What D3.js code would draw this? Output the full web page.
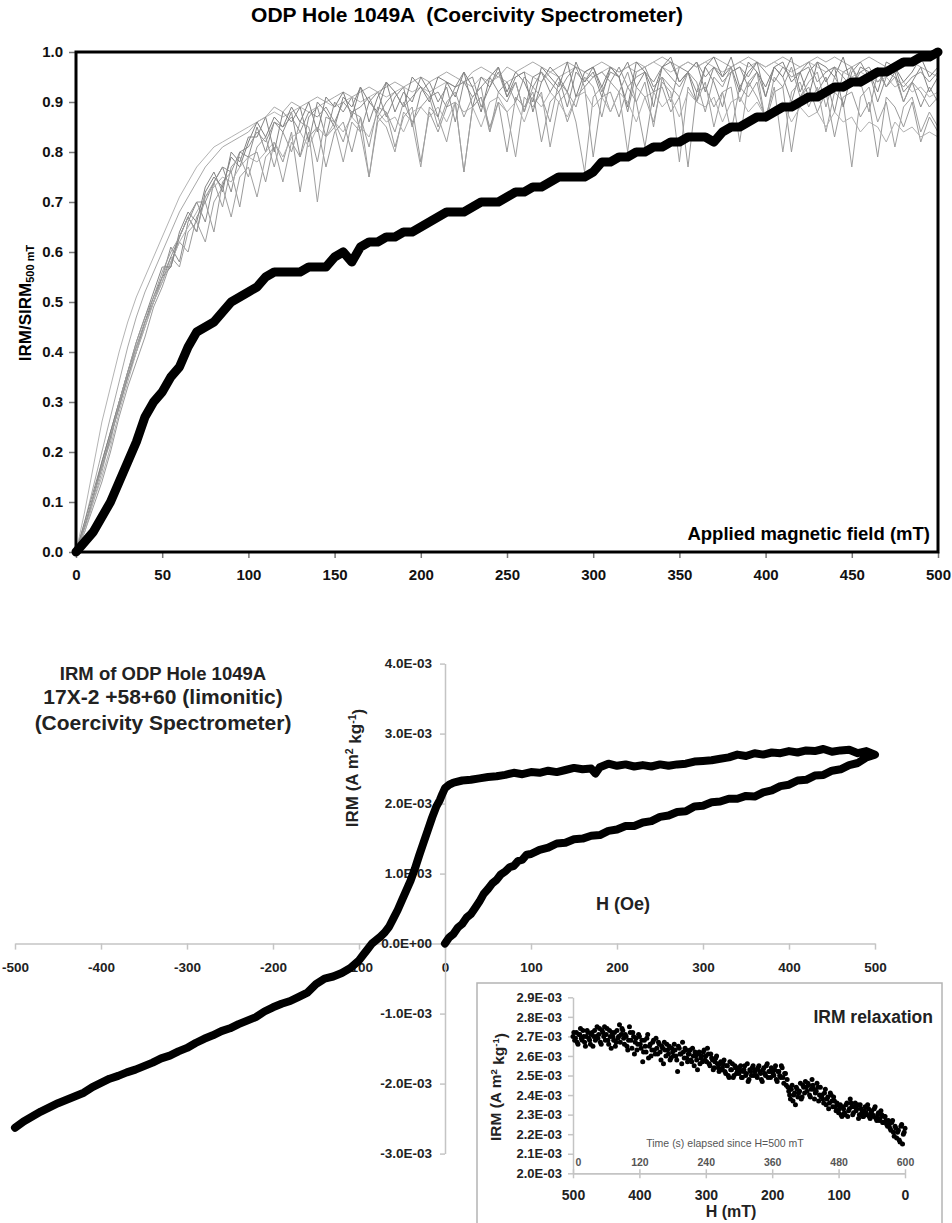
<!DOCTYPE html>
<html>
<head>
<meta charset="utf-8">
<script src="https://cdn.jsdelivr.net/npm/d3@7"></script>
<style>
  body { margin: 0; background: #fff; }
  svg { display: block; font-family: "Liberation Sans", Arial, sans-serif; font-weight: bold; }
</style>
</head>
<body>
<svg id="chart" width="952" height="1223"></svg>
<script>
// ---------- data: coercivity spectra (IRM/SIRM vs applied field, mT) ----------
const fieldMT = [0,5,10,15,20,25,30,35,40,45,50,55,60,65,70,75,80,85,90,95,100,
  105,110,115,120,125,130,135,140,145,150,155,160,165,170,175,180,185,190,195,200,
  205,210,215,220,225,230,235,240,245,250,255,260,265,270,275,280,285,290,295,300,
  305,310,315,320,325,330,335,340,345,350,355,360,365,370,375,380,385,390,395,400,
  405,410,415,420,425,430,435,440,445,450,455,460,465,470,475,480,485,490,495,500];

// other samples of the hole (thin grey traces)
const sampleA = [0,.06,.13,.20,.27,.34,.41,.47,.52,.56,.60,.64,.68,.71,.74,.77,.79,.81,.82,.83,.84,
  .86,.87,.89,.88,.90,.89,.90,.91,.90,.91,.92,.91,.92,.93,.92,.93,.94,.93,.94,.95,
  .94,.95,.96,.95,.94,.96,.97,.96,.95,.97,.96,.97,.98,.97,.96,.97,.98,.97,.96,.97,
  .98,.97,.96,.97,.98,.97,.98,.99,.98,.97,.98,.97,.98,.99,.98,.97,.98,.99,.98,.97,
  .98,.99,.98,.97,.98,.99,.98,.99,.98,.97,.98,.99,.98,.97,.96,.97,.98,.97,.96,.95];
const sampleB = [0,.05,.11,.17,.23,.29,.35,.40,.46,.50,.55,.61,.58,.66,.70,.66,.74,.77,.72,.80,.79,
  .85,.80,.86,.84,.88,.79,.87,.89,.83,.90,.88,.91,.84,.90,.92,.87,.91,.93,.85,.92,
  .94,.90,.93,.86,.94,.95,.89,.93,.96,.91,.94,.88,.95,.96,.92,.95,.89,.96,.94,.97,
  .92,.96,.95,.88,.96,.97,.93,.95,.90,.97,.96,.92,.97,.94,.89,.96,.97,.93,.96,.91,
  .97,.95,.90,.96,.97,.92,.95,.88,.96,.97,.93,.96,.90,.95,.97,.92,.94,.89,.93,.90];
const sampleC = [0,.04,.09,.14,.20,.27,.33,.38,.43,.49,.53,.58,.62,.60,.67,.70,.64,.74,.76,.69,.79,
  .80,.74,.82,.78,.84,.72,.83,.85,.77,.84,.86,.80,.87,.75,.86,.88,.81,.87,.89,.78,
  .88,.84,.89,.90,.76,.89,.91,.85,.90,.80,.91,.89,.92,.82,.90,.92,.86,.91,.93,.79,
  .91,.92,.87,.93,.90,.81,.92,.93,.88,.91,.77,.92,.93,.89,.92,.84,.93,.91,.94,.86,
  .92,.93,.80,.91,.93,.88,.92,.83,.91,.92,.87,.90,.79,.91,.89,.85,.90,.82,.87,.84];
const sampleD = [0,.08,.17,.26,.33,.40,.46,.51,.55,.59,.63,.67,.71,.74,.77,.79,.81,.82,.83,.84,.85,
  .86,.87,.88,.87,.88,.89,.88,.89,.90,.89,.90,.91,.90,.91,.92,.91,.92,.93,.92,.93,
  .92,.93,.94,.93,.94,.93,.95,.94,.95,.94,.95,.96,.95,.94,.96,.95,.96,.97,.96,.95,
  .96,.97,.96,.97,.96,.97,.98,.97,.96,.97,.98,.97,.98,.97,.96,.97,.98,.97,.98,.97,
  .98,.97,.96,.97,.98,.97,.96,.97,.96,.95,.96,.95,.94,.95,.93,.94,.92,.93,.91,.92];
const sampleE = [0,.05,.11,.18,.24,.30,.36,.41,.46,.51,.55,.57,.63,.67,.64,.72,.75,.73,.79,.77,.82,
  .86,.83,.87,.85,.89,.86,.90,.84,.91,.89,.92,.87,.93,.90,.88,.94,.92,.89,.95,.93,
  .90,.95,.94,.91,.96,.93,.88,.95,.97,.92,.96,.94,.90,.97,.95,.93,.98,.91,.96,.97,
  .93,.97,.95,.89,.98,.96,.92,.97,.98,.94,.96,.90,.97,.99,.95,.97,.92,.98,.96,.93,
  .97,.98,.94,.96,.91,.98,.97,.95,.99,.93,.97,.96,.92,.98,.97,.94,.96,.99,.95,.97];
const sampleF = [0,.05,.10,.16,.23,.29,.35,.41,.46,.50,.55,.59,.57,.64,.66,.62,.70,.73,.67,.75,.77,
  .71,.79,.81,.74,.82,.79,.84,.70,.83,.85,.78,.86,.84,.75,.87,.85,.80,.88,.86,.77,
  .89,.87,.82,.90,.76,.89,.91,.84,.90,.88,.79,.91,.89,.92,.81,.90,.92,.86,.76,.91,
  .93,.88,.92,.80,.93,.91,.86,.94,.92,.78,.93,.90,.94,.85,.92,.93,.82,.94,.91,.87,
  .93,.80,.92,.94,.89,.93,.84,.92,.90,.77,.91,.93,.86,.90,.81,.89,.91,.84,.88,.85];
const sampleG = [0,.05,.11,.17,.23,.29,.35,.40,.45,.50,.54,.59,.63,.67,.70,.70,.74,.77,.76,.80,.81,
  .84,.82,.86,.85,.87,.84,.88,.87,.89,.86,.90,.88,.89,.91,.87,.90,.92,.89,.91,.93,
  .91,.92,.89,.93,.94,.91,.93,.95,.92,.94,.90,.95,.93,.96,.94,.92,.95,.97,.93,.95,
  .96,.94,.97,.93,.95,.96,.94,.97,.95,.93,.96,.98,.95,.97,.94,.96,.97,.95,.98,.96,
  .94,.97,.95,.96,.98,.94,.96,.97,.95,.93,.96,.97,.94,.96,.95,.93,.95,.96,.94,.96];
const sampleH = [0,.04,.10,.15,.21,.28,.34,.40,.45,.50,.54,.58,.62,.65,.68,.71,.73,.75,.74,.77,.79,
  .78,.80,.82,.79,.83,.84,.81,.85,.83,.86,.84,.87,.85,.83,.88,.86,.87,.84,.88,.89,
  .87,.89,.86,.90,.88,.89,.85,.90,.91,.88,.90,.86,.91,.89,.92,.90,.87,.91,.92,.89,
  .91,.88,.92,.90,.86,.91,.92,.89,.91,.87,.92,.90,.89,.91,.86,.90,.91,.88,.90,.87,
  .89,.90,.86,.89,.87,.88,.85,.88,.86,.87,.84,.86,.85,.82,.86,.84,.85,.83,.84,.83];
const sampleI = [0,.06,.12,.18,.24,.30,.36,.42,.47,.52,.57,.57,.64,.68,.66,.73,.76,.72,.80,.78,.83,
  .83,.87,.80,.88,.86,.89,.82,.90,.88,.85,.91,.89,.93,.86,.91,.94,.88,.92,.90,.95,
  .92,.87,.94,.93,.96,.89,.95,.93,.97,.91,.95,.96,.88,.94,.97,.95,.92,.98,.94,.96,
  .91,.97,.95,.98,.93,.96,.89,.97,.99,.94,.96,.98,.92,.97,.95,.99,.93,.96,.98,.91,
  .97,.95,.99,.92,.96,.98,.94,.97,.89,.96,.98,.95,.97,.93,.96,.90,.94,.97,.92,.95];
const sampleJ = [0,.05,.11,.17,.22,.30,.36,.42,.47,.51,.56,.60,.63,.67,.64,.71,.74,.69,.77,.79,.75,
  .81,.83,.77,.84,.80,.86,.85,.78,.87,.86,.82,.88,.87,.81,.89,.88,.84,.90,.86,.89,
  .91,.85,.90,.92,.87,.91,.93,.84,.92,.90,.94,.88,.93,.91,.86,.94,.92,.89,.95,.93,
  .87,.94,.92,.96,.90,.94,.85,.95,.93,.91,.96,.94,.88,.95,.93,.97,.90,.94,.96,.86,
  .95,.93,.97,.91,.94,.96,.89,.95,.92,.97,.94,.88,.96,.93,.95,.90,.94,.92,.89,.91];
const greySamples = [sampleA, sampleB, sampleC, sampleD, sampleE, sampleF, sampleG, sampleH, sampleI, sampleJ];

// 17X-2 +58+60 (thick black trace)
const sample17X = [0,.02,.04,.07,.10,.14,.18,.22,.27,.30,.32,.35,.37,.41,.44,.45,.46,.48,.50,.51,.52,
  .53,.55,.56,.56,.56,.56,.57,.57,.57,.59,.60,.58,.61,.62,.62,.63,.63,.64,.64,.65,
  .66,.67,.68,.68,.68,.69,.70,.70,.70,.71,.72,.72,.73,.73,.74,.75,.75,.75,.75,.76,
  .78,.78,.79,.79,.80,.80,.81,.81,.82,.82,.83,.83,.83,.82,.84,.85,.85,.86,.87,.87,
  .88,.89,.89,.90,.91,.91,.92,.93,.93,.94,.94,.95,.96,.96,.97,.98,.98,.99,.99,1];

const specXTicks = [0,50,100,150,200,250,300,350,400,450,500];
const specYTicks = [0,.1,.2,.3,.4,.5,.6,.7,.8,.9,1];

// ---------- data: IRM loop (H in Oe, IRM in 1E-03 A m2/kg) ----------
const riseH = [0,5,10,15,20,25,30,35,40,45,50,55,60,65,70,75,80,85,90,95,100,
  110,120,130,140,150,160,170,180,190,200,210,220,230,240,250,260,270,280,290,300,
  310,320,330,340,350,360,370,380,390,400,410,420,430,440,450,460,470,480,490,500];
const riseIRM = [0,.09,.14,.23,.28,.37,.42,.51,.60,.71,.78,.86,.91,.99,1.03,1.09,1.11,1.18,1.20,1.27,1.28,
  1.34,1.37,1.43,1.44,1.49,1.50,1.54,1.55,1.61,1.63,1.68,1.68,1.73,1.75,1.81,1.83,1.88,1.89,1.96,1.97,
  2.02,2.03,2.07,2.07,2.11,2.10,2.16,2.19,2.25,2.27,2.33,2.34,2.40,2.41,2.47,2.49,2.55,2.58,2.66,2.70];
const returnH = [490,480,470,460,450,440,430,420,410,400,390,380,370,360,350,340,330,320,310,300,
  290,280,270,260,250,240,230,220,210,200,190,180,175,170,160,150,140,130,120,110,100,
  90,80,70,60,50,40,30,20,10,5,0,-3,-6,-10,-15,-20,-25,-30,-35,-40,-45,-50,-55,-60,-65,
  -70,-75,-80,-85,-90,-95,-100,-110,-120,-130,-140,-150,-160,-170,-180,-190,-200,
  -210,-220,-230,-240,-250,-260,-270,-280,-290,-300,-310,-320,-330,-340,-350,
  -360,-370,-380,-390,-400,-410,-420,-430,-440,-450,-460,-470,-480,-490,-500];
const returnIRM = [2.75,2.72,2.77,2.76,2.74,2.78,2.75,2.76,2.73,2.75,2.72,2.73,2.70,2.72,2.68,2.70,2.66,2.64,2.62,2.61,
  2.60,2.57,2.56,2.54,2.56,2.53,2.55,2.53,2.56,2.54,2.57,2.52,2.43,2.50,2.49,2.51,2.48,2.45,2.47,2.44,2.45,
  2.42,2.44,2.41,2.39,2.38,2.36,2.34,2.33,2.30,2.27,2.22,2.14,2.05,1.96,1.80,1.62,1.44,1.26,1.07,.90,.76,.62,.48,.36,.24,
  .16,.10,.05,0,-.08,-.16,-.24,-.35,-.42,-.47,-.50,-.58,-.70,-.76,-.82,-.86,-.91,
  -.97,-1.05,-1.10,-1.15,-1.21,-1.25,-1.31,-1.36,-1.42,-1.49,-1.54,-1.60,-1.64,-1.70,-1.75,
  -1.80,-1.84,-1.89,-1.93,-1.99,-2.05,-2.13,-2.18,-2.23,-2.28,-2.34,-2.40,-2.47,-2.54,-2.63];
const loopXTicks = [-500,-400,-300,-200,-100,0,100,200,300,400,500];
const loopYTicks = [-3,-2,-1,0,1,2,3,4];

// ---------- data: IRM relaxation after H=500 mT ----------
// readings on the whole 3 s marks (t = 0, 3, 6 ... 600 s)
const relaxStepS = 3;
const relaxIRM = [2.70,2.68,2.72,2.66,2.71,2.69,2.73,2.67,2.70,2.72,
  2.68,2.71,2.65,2.73,2.70,2.69,2.74,2.66,2.72,2.75,
  2.71,2.68,2.73,2.64,2.70,2.72,2.67,2.69,2.76,2.71,
  2.73,2.66,2.70,2.63,2.75,2.68,2.72,2.61,2.69,2.66,
  2.70,2.64,2.57,2.68,2.62,2.71,2.65,2.60,2.67,2.63,
  2.69,2.61,2.66,2.58,2.64,2.67,2.60,2.63,2.65,2.59,
  2.62,2.66,2.60,2.52,2.64,2.61,2.67,2.59,2.63,2.57,
  2.61,2.58,2.64,2.55,2.60,2.53,2.62,2.59,2.57,2.63,
  2.60,2.64,2.56,2.61,2.58,2.54,2.59,2.56,2.52,2.57,
  2.54,2.58,2.51,2.55,2.49,2.53,2.56,2.50,2.54,2.52,
  2.51,2.55,2.49,2.53,2.50,2.56,2.48,2.52,2.54,2.50,
  2.53,2.49,2.55,2.51,2.47,2.54,2.50,2.56,2.52,2.49,
  2.53,2.50,2.55,2.47,2.52,2.49,2.54,2.46,2.51,2.48,
  2.42,2.38,2.45,2.40,2.35,2.43,2.41,2.46,2.39,2.44,
  2.47,2.42,2.45,2.39,2.48,2.43,2.41,2.46,2.37,2.44,
  2.40,2.36,2.43,2.38,2.33,2.41,2.37,2.39,2.34,2.36,
  2.31,2.35,2.29,2.33,2.30,2.36,2.32,2.38,2.34,2.31,
  2.36,2.33,2.28,2.35,2.31,2.29,2.34,2.30,2.33,2.28,
  2.32,2.29,2.34,2.27,2.31,2.28,2.30,2.26,2.29,2.25,
  2.27,2.23,2.26,2.21,2.24,2.18,2.22,2.16,2.25,2.20,2.23];
// readings half-way between them (t = 1.5, 4.5 ... 598.5 s)
const relaxIRMMid = [2.72,2.69,2.67,2.71,2.74,2.68,2.70,2.65,2.73,2.69,
  2.66,2.72,2.70,2.68,2.75,2.71,2.67,2.73,2.70,2.68,
  2.74,2.66,2.70,2.72,2.68,2.65,2.73,2.70,2.67,2.74,
  2.69,2.71,2.65,2.68,2.72,2.64,2.70,2.67,2.63,2.71,
  2.66,2.68,2.62,2.65,2.69,2.59,2.66,2.63,2.68,2.61,
  2.64,2.67,2.62,2.65,2.56,2.63,2.66,2.61,2.58,2.64,
  2.60,2.63,2.58,2.65,2.61,2.56,2.62,2.64,2.59,2.61,
  2.63,2.57,2.60,2.62,2.58,2.61,2.56,2.60,2.62,2.58,
  2.57,2.61,2.55,2.59,2.53,2.57,2.60,2.54,2.56,2.53,
  2.56,2.52,2.55,2.50,2.57,2.53,2.49,2.55,2.51,2.54,
  2.53,2.49,2.52,2.55,2.51,2.47,2.53,2.50,2.55,2.52,
  2.50,2.54,2.52,2.48,2.53,2.51,2.55,2.49,2.52,2.54,
  2.51,2.53,2.48,2.52,2.50,2.55,2.49,2.51,2.45,2.44,
  2.40,2.43,2.37,2.41,2.44,2.39,2.42,2.38,2.45,2.41,
  2.44,2.46,2.40,2.43,2.45,2.38,2.42,2.44,2.40,2.39,
  2.38,2.41,2.35,2.39,2.36,2.40,2.34,2.37,2.32,2.35,
  2.33,2.30,2.34,2.31,2.35,2.29,2.33,2.36,2.30,2.34,
  2.32,2.35,2.30,2.33,2.29,2.32,2.31,2.35,2.29,2.31,
  2.30,2.33,2.28,2.30,2.27,2.32,2.26,2.29,2.27,2.24,
  2.25,2.22,2.27,2.19,2.23,2.21,2.17,2.24,2.15,2.21];
const relaxHTicks = [500,400,300,200,100,0];
const relaxTimeTicks = [0,120,240,360,480,600];
const relaxYTicks = [2.0,2.1,2.2,2.3,2.4,2.5,2.6,2.7,2.8,2.9];

const svg = d3.select("svg#chart");
svg.append("rect").attr("width", 952).attr("height", 1223).attr("fill", "#fff");

function expLabel(d) {
  return d === 0 ? "0.0E+00" : d.toFixed(1) + "E-03";
}

// ================= top panel =================
const spec = { left: 76, top: 52, width: 862, height: 500 };
const xSpec = d3.scaleLinear().domain([0, 500]).range([0, spec.width]);
const ySpec = d3.scaleLinear().domain([0, 1]).range([spec.height, 0]);
const g1 = svg.append("g").attr("transform", `translate(${spec.left},${spec.top})`);

g1.append("clipPath").attr("id", "specClip")
  .append("rect").attr("width", spec.width).attr("height", spec.height);

const xAxisSpec = g1.append("g")
  .attr("transform", `translate(0,${spec.height})`)
  .call(d3.axisBottom(xSpec).tickValues(specXTicks).tickFormat(d => d)
    .tickSize(6).tickSizeOuter(0).tickPadding(11));
const yAxisSpec = g1.append("g")
  .call(d3.axisLeft(ySpec).tickValues(specYTicks).tickFormat(d3.format(".1f"))
    .tickSize(7).tickSizeOuter(0).tickPadding(6));
[xAxisSpec, yAxisSpec].forEach(a => {
  a.select(".domain").remove();
  a.selectAll("line").attr("stroke", "#777").attr("stroke-width", 1.5);
  a.selectAll("text").attr("fill", "#111").style("font-size", "15px");
});

const specLine = d3.line()
  .x((d, i) => xSpec(fieldMT[i]))
  .y(d => ySpec(d));

const greyColors = ["#a8a8a8", "#8c8c8c", "#9a9a9a", "#b4b4b4", "#7e7e7e",
  "#a0a0a0", "#909090", "#b0b0b0", "#858585", "#9c9c9c"];

g1.append("g").attr("clip-path", "url(#specClip)")
  .selectAll("path.grey")
  .data(greySamples)
  .enter().append("path")
  .attr("class", "grey")
  .attr("d", specLine)
  .attr("fill", "none")
  .attr("stroke", (d, i) => greyColors[i])
  .attr("stroke-width", 1);

g1.append("rect")
  .attr("width", spec.width).attr("height", spec.height)
  .attr("fill", "none").attr("stroke", "#000").attr("stroke-width", 3);

g1.append("path")
  .datum(sample17X)
  .attr("d", specLine)
  .attr("fill", "none")
  .attr("stroke", "#000")
  .attr("stroke-width", 9)
  .attr("stroke-linejoin", "round")
  .attr("stroke-linecap", "round");

svg.append("text")
  .attr("x", 467).attr("y", 22)
  .attr("text-anchor", "middle")
  .style("font-size", "21px")
  .style("white-space", "pre")
  .text("ODP Hole 1049A  (Coercivity Spectrometer)");

g1.append("text")
  .attr("x", spec.width - 8).attr("y", spec.height - 12)
  .attr("text-anchor", "end")
  .style("font-size", "18.5px")
  .text("Applied magnetic field (mT)");

const yTitle = svg.append("text")
  .attr("transform", "translate(31,303) rotate(-90)")
  .attr("text-anchor", "middle")
  .style("font-size", "17px");
yTitle.append("tspan").text("IRM/SIRM");
yTitle.append("tspan").attr("dy", "0.3em").style("font-size", "11px").text("500 mT");

// ================= bottom panel: IRM loop =================
const xLoop = d3.scaleLinear().domain([-500, 500]).range([15, 875]);
const yLoop = d3.scaleLinear().domain([-3, 4]).range([1153.6, 663.6]);
const g2 = svg.append("g");

const xAxisLoop = g2.append("g")
  .attr("transform", `translate(0,${yLoop(0)})`)
  .call(d3.axisBottom(xLoop).tickValues(loopXTicks).tickFormat(d => d)
    .tickSize(6).tickSizeOuter(0).tickPadding(13));
const yAxisLoop = g2.append("g")
  .attr("transform", `translate(${xLoop(0)},0)`)
  .call(d3.axisLeft(yLoop).tickValues(loopYTicks).tickFormat(expLabel)
    .tickSize(5).tickSizeOuter(0).tickPadding(8));
[xAxisLoop, yAxisLoop].forEach(a => {
  a.select(".domain").attr("stroke", "#c4c4c4").attr("stroke-width", 1.5);
  a.selectAll("line").attr("stroke", "#c4c4c4").attr("stroke-width", 1.5);
  a.selectAll("text").attr("fill", "#222").style("font-size", "13.5px");
});

const loopPts = riseH.map((h, i) => [h, riseIRM[i]])
  .concat(returnH.map((h, i) => [h, returnIRM[i]]));
g2.append("path")
  .datum(loopPts)
  .attr("d", d3.line().x(d => xLoop(d[0])).y(d => yLoop(d[1])))
  .attr("fill", "none")
  .attr("stroke", "#000")
  .attr("stroke-width", 8)
  .attr("stroke-linejoin", "round")
  .attr("stroke-linecap", "round");

const note = g2.append("text").attr("text-anchor", "middle").attr("fill", "#222");
note.append("tspan").attr("x", 163).attr("y", 680).style("font-size", "18.5px").text("IRM of ODP Hole 1049A");
note.append("tspan").attr("x", 163).attr("y", 704).style("font-size", "21px").text("17X-2 +58+60 (limonitic)");
note.append("tspan").attr("x", 163).attr("y", 730).style("font-size", "21px").text("(Coercivity Spectrometer)");

g2.append("text")
  .attr("x", 623).attr("y", 910)
  .attr("text-anchor", "middle")
  .attr("fill", "#222")
  .style("font-size", "18px")
  .text("H (Oe)");

function irmUnitLabel(sel, size) {
  sel.append("tspan").text("IRM (A m");
  sel.append("tspan").attr("dy", "-0.45em").style("font-size", (size * 0.62) + "px").text("2");
  sel.append("tspan").attr("dy", "0.45em").text(" kg");
  sel.append("tspan").attr("dy", "-0.45em").style("font-size", (size * 0.62) + "px").text("-1");
  sel.append("tspan").attr("dy", "0.45em").text(")");
}
const loopYTitle = g2.append("text")
  .attr("transform", "translate(358,768) rotate(-90)")
  .attr("text-anchor", "middle")
  .attr("fill", "#222")
  .style("font-size", "17px");
irmUnitLabel(loopYTitle, 17);

// ================= inset: IRM relaxation =================
const g3 = svg.append("g");
g3.append("rect")
  .attr("x", 477).attr("y", 983).attr("width", 465).attr("height", 260)
  .attr("fill", "#fff").attr("stroke", "#b4b4b4").attr("stroke-width", 1.5);

const xRelaxH = d3.scaleLinear().domain([500, 0]).range([573, 905]);
const xRelaxT = d3.scaleLinear().domain([0, 600]).range([573, 905]);
const yRelax = d3.scaleLinear().domain([2.0, 2.9]).range([1173.3, 997.3]);

const hAxis = g3.append("g")
  .attr("transform", `translate(0,${yRelax(2.0)})`)
  .call(d3.axisBottom(xRelaxH).tickValues(relaxHTicks).tickFormat(d => d)
    .tickSize(5).tickSizeOuter(0).tickPadding(12));
const yAxisRelax = g3.append("g")
  .attr("transform", `translate(${xRelaxH(500)},0)`)
  .call(d3.axisLeft(yRelax).tickValues(relaxYTicks).tickFormat(d => d.toFixed(1) + "E-03")
    .tickSize(5).tickSizeOuter(0).tickPadding(6));
const tAxis = g3.append("g")
  .attr("transform", `translate(0,${yRelax(2.0)})`)
  .call(d3.axisTop(xRelaxT).tickValues(relaxTimeTicks).tickFormat(d => d)
    .tickSize(4).tickSizeOuter(0).tickPadding(3));
[hAxis, yAxisRelax, tAxis].forEach(a => {
  a.select(".domain").attr("stroke", "#c4c4c4").attr("stroke-width", 1.5);
  a.selectAll("line").attr("stroke", "#c4c4c4").attr("stroke-width", 1.5);
});
hAxis.selectAll("text").attr("fill", "#222").style("font-size", "14px");
yAxisRelax.selectAll("text").attr("fill", "#222").style("font-size", "13px");
tAxis.selectAll("text").attr("fill", "#555").style("font-size", "10.5px");
tAxis.selectAll(".tick").filter(d => d === 0).select("text").attr("x", 5);

const relaxPts = relaxIRM.map((v, i) => [i * relaxStepS, v])
  .concat(relaxIRMMid.map((v, i) => [i * relaxStepS + relaxStepS / 2, v]));
g3.selectAll("circle.relax")
  .data(relaxPts)
  .enter().append("circle")
  .attr("class", "relax")
  .attr("cx", d => xRelaxT(d[0]))
  .attr("cy", d => yRelax(d[1]))
  .attr("r", 2.5)
  .attr("fill", "#000");

g3.append("text")
  .attr("x", 725).attr("y", 1147)
  .attr("text-anchor", "middle")
  .attr("fill", "#555")
  .style("font-weight", "normal")
  .style("font-size", "10.5px")
  .text("Time (s) elapsed since H=500 mT");

g3.append("text")
  .attr("x", 731).attr("y", 1217)
  .attr("text-anchor", "middle")
  .attr("fill", "#222")
  .style("font-size", "16px")
  .text("H (mT)");

g3.append("text")
  .attr("x", 933).attr("y", 1023)
  .attr("text-anchor", "end")
  .attr("fill", "#222")
  .style("font-size", "17.5px")
  .text("IRM relaxation");

const relaxYTitle = g3.append("text")
  .attr("transform", "translate(501,1087) rotate(-90)")
  .attr("text-anchor", "middle")
  .attr("fill", "#222")
  .style("font-size", "15.5px");
irmUnitLabel(relaxYTitle, 15.5);
</script>
</body>
</html>
